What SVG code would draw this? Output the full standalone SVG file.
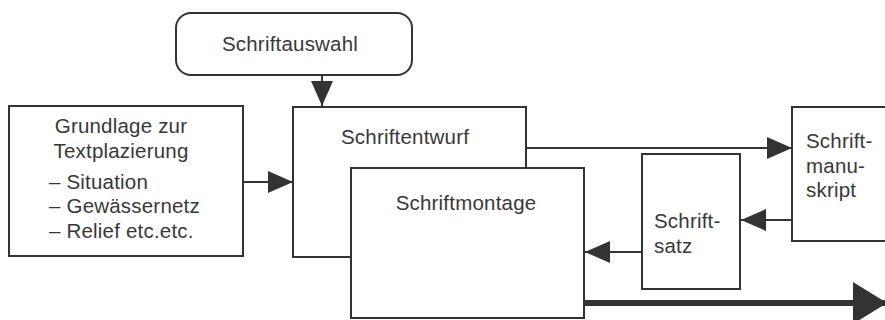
<svg xmlns="http://www.w3.org/2000/svg" width="885" height="320" viewBox="0 0 885 320">
<style>
.box{fill:#fff;stroke:#333;stroke-width:2}
.t{font-family:"Liberation Sans",Arial,Helvetica,sans-serif;font-size:20.5px;letter-spacing:0.2px;fill:#383838}
.c{text-anchor:middle}
.ln{stroke:#333;stroke-width:2;fill:none}
</style>
<defs>
<marker id="ah" markerUnits="userSpaceOnUse" markerWidth="26" markerHeight="22" refX="25" refY="11" orient="auto">
<path d="M0,0 L25,11 L0,22 Z" fill="#333"/>
</marker>
<marker id="ahb" markerUnits="userSpaceOnUse" markerWidth="36" markerHeight="42" refX="34" refY="21" orient="auto">
<path d="M0,0 L34,21 L0,42 Z" fill="#333"/>
</marker>
</defs>
<rect width="885" height="320" fill="#fff"/>
<g id="connectors">
<line class="ln" x1="322" y1="75" x2="322" y2="106" marker-end="url(#ah)"/>
<line class="ln" x1="243" y1="182" x2="293" y2="182" marker-end="url(#ah)"/>
<line class="ln" x1="526" y1="148" x2="792" y2="148" marker-end="url(#ah)"/>
<line class="ln" x1="792" y1="220" x2="741" y2="220" marker-end="url(#ah)"/>
<line class="ln" x1="642" y1="252" x2="585" y2="252" marker-end="url(#ah)"/>
<line x1="584" y1="303" x2="887" y2="303" stroke="#333" stroke-width="6" marker-end="url(#ahb)"/>
</g>
<g id="schriftauswahl">
<rect class="box" x="176" y="13" width="236" height="62" rx="15"/>
<text class="t c" x="290" y="51">Schriftauswahl</text>
</g>
<g id="grundlage">
<rect class="box" x="9" y="106" width="234" height="150"/>
<text class="t c" x="121" y="133">Grundlage zur</text>
<text class="t c" x="121" y="158">Textplazierung</text>
<text class="t" x="49" y="189">– Situation</text>
<text class="t" x="49" y="213">– Gewässernetz</text>
<text class="t" x="49" y="238">– Relief etc.etc.</text>
</g>
<g id="schriftentwurf">
<rect class="box" x="293" y="107" width="233" height="150"/>
<text class="t" x="341" y="144">Schriftentwurf</text>
</g>
<g id="schriftmontage">
<rect class="box" x="351" y="168" width="233" height="150"/>
<text class="t c" x="466" y="210">Schriftmontage</text>
</g>
<g id="schriftsatz">
<rect class="box" x="642" y="154" width="98" height="135"/>
<text class="t" x="654" y="228">Schrift-</text>
<text class="t" x="654" y="253">satz</text>
</g>
<g id="schriftmanuskript">
<rect class="box" x="792" y="107" width="100" height="134"/>
<text class="t" x="806" y="148">Schrift-</text>
<text class="t" x="806" y="173">manu-</text>
<text class="t" x="806" y="197">skript</text>
</g>
</svg>
